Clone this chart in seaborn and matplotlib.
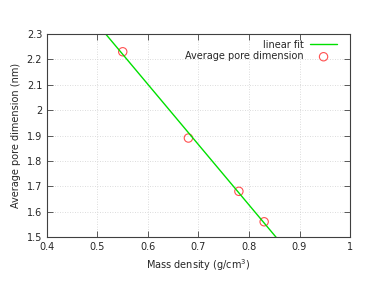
import numpy as np
import pandas as pd
import matplotlib
matplotlib.use("Agg")
import matplotlib.pyplot as plt
import seaborn as sns

# data
density = [0.55, 0.68, 0.78, 0.83]
pore = [2.23, 1.89, 1.68, 1.56]
xticks = [0.4, 0.5, 0.6, 0.7, 0.8, 0.9, 1.0]
xticklabels = ["0.4", "0.5", "0.6", "0.7", "0.8", "0.9", "1"]
yticks = [1.5, 1.6, 1.7, 1.8, 1.9, 2.0, 2.1, 2.2, 2.3]
yticklabels = ["1.5", "1.6", "1.7", "1.8", "1.9", "2", "2.1", "2.2", "2.3"]

sns.set_style("ticks")
plt.rcParams["font.family"] = ["DejaVu Sans"]
plt.rcParams["font.size"] = 7

# linear fit over the whole x range
a, b = np.polyfit(density, pore, 1)
xfit = np.array([0.4, 1.0])
fit = pd.DataFrame({"x": xfit, "y": a * xfit + b})
pts = pd.DataFrame({"x": density, "y": pore})

fig = plt.figure(figsize=(3.74, 2.81), dpi=100)
ax = fig.add_axes([47 / 374, 1 - 237 / 281, (350 - 47) / 374, (237 - 34) / 281])

sns.lineplot(data=fit, x="x", y="y", ax=ax, color="#00e000", lw=1.0, label="linear fit")
sns.scatterplot(data=pts, x="x", y="y", ax=ax, marker="o", s=36, facecolor="none",
                edgecolor="#ff5050", linewidth=0.8, label="Average pore dimension")

ax.set_xlim(0.4, 1.0)
ax.set_ylim(1.5, 2.3)
ax.set_xticks(xticks)
ax.set_xticklabels(xticklabels)
ax.set_yticks(yticks)
ax.set_yticklabels(yticklabels)
ax.grid(True, color="#d0d0d0", linestyle=(0, (1, 2)), lw=0.6)
ax.tick_params(direction="in", top=True, right=True, length=4, width=0.6,
               labelsize=7, color="#404040")
for s in ax.spines.values():
    s.set_color("#404040")
    s.set_linewidth(0.8)

ax.set_xlabel("Mass density (g/cm$^3$)", fontsize=7)
ax.set_ylabel("Average pore dimension (nm)", fontsize=7)

ax.legend(loc="upper right", bbox_to_anchor=(1 - 7 / 303, 1), frameon=False,
          markerfirst=False, fontsize=7, handlelength=2.8, handletextpad=0.6,
          borderaxespad=0.2, labelspacing=0.15)

fig.savefig("out.png", dpi=100)
